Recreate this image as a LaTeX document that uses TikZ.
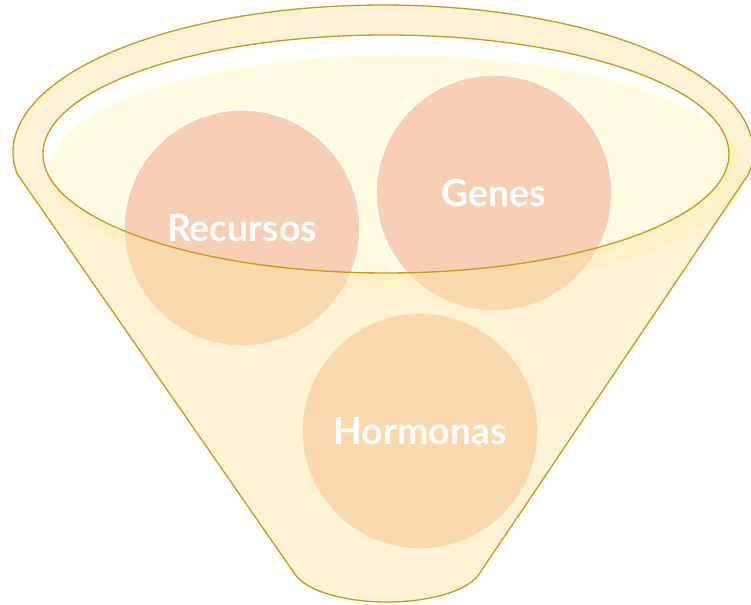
\documentclass[tikz,border=0pt]{standalone}
\usepackage{fontspec}
\setmainfont{Lato}
\usepackage{tikz}
\definecolor{cborde}{HTML}{C99A1C}
\definecolor{cmelocoton}{HTML}{F8CFB5}
\definecolor{cfrente}{HTML}{FFE5A6}
\definecolor{cliquido}{HTML}{FFFCE2}
\tikzset{
  bola/.style={circle, fill=cmelocoton, draw=white, line width=1pt,
    minimum size=177pt, inner sep=0pt},
  etq/.style={font=\fontsize{28}{32}\selectfont\bfseries, text=white},
  borde/.style={draw=cborde, line width=1pt},
}

\begin{document}
\begin{tikzpicture}[x=0.75pt,y=0.75pt]
  \useasboundingbox (0,0) rectangle (751,605);
  % boca del embudo y liquido
  \fill[white] (386,451) ellipse[x radius=343, y radius=119];
  \fill[cliquido] (397,433) ellipse[x radius=348, y radius=117];
  % bolas
  \node[bola] (rec) at (242,377) {};
  \node[bola] (gen) at (494,412) {};
  \node[bola] (hor) at (420,174) {};
  % cara delantera del embudo
  \fill[cfrente, opacity=0.46, even odd rule]
    (17,431.5) -- (295.2,30.4) arc[start angle=195, end angle=345, x radius=95, y radius=37]
    -- (749,431.5) arc[start angle=-8.4, end angle=188.4, x radius=370, y radius=147] -- cycle
    (386,451) ellipse[x radius=343, y radius=119];
  \draw[borde]
    (17,431.5) -- (295.2,30.4) arc[start angle=195, end angle=345, x radius=95, y radius=37]
    -- (749,431.5) arc[start angle=-8.4, end angle=188.4, x radius=370, y radius=147] -- cycle;
  \draw[borde] (386,451) ellipse[x radius=343, y radius=119];
  % textos
  \node[etq] at (rec) {Recursos};
  \node[etq] at (gen) {Genes};
  \node[etq] at (hor) {Hormonas};
\end{tikzpicture}
\end{document}
